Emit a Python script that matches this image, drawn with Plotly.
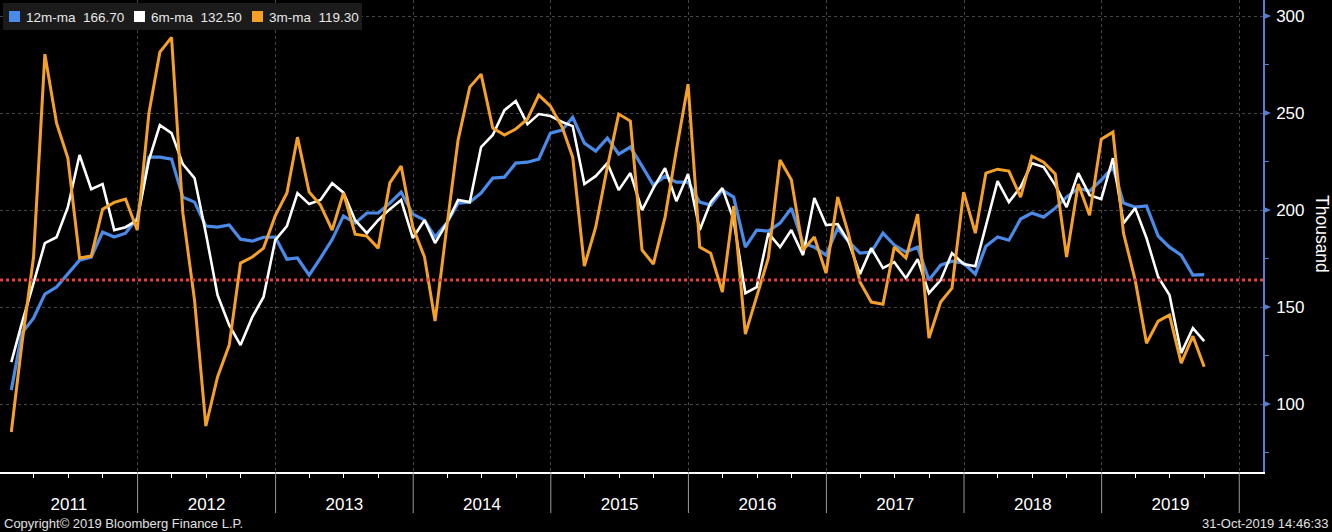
import pandas as pd
import plotly.graph_objects as go

# ---------------- data (monthly, Jan-2011 .. Sep-2019) ----------------
start_month = "2011-01-01"
n_months = 105
months = pd.date_range(start_month, periods=n_months, freq="MS") + pd.offsets.MonthEnd(0)

ma12 = [107.2, 136.6, 144.3, 156.7, 160.3, 167.0, 174.2, 175.8, 188.7, 186.1, 188.1, 195.9,
        227.3, 227.3, 226.3, 206.7, 204.1, 191.8, 191.2, 192.3, 185.0, 184.0, 186.0, 186.1,
        174.7, 175.3, 166.5, 175.3, 184.8, 197.0, 193.3, 198.5, 198.5, 203.6, 209.3, 197.9,
        194.8, 186.1, 193.3, 203.6, 204.1, 208.8, 216.5, 217.0, 224.2, 224.7, 226.3, 239.7,
        241.2, 247.9, 234.5, 230.4, 237.1, 228.9, 232.5, 222.7, 212.9, 217.5, 214.4, 214.4,
        204.1, 202.6, 210.3, 206.7, 180.9, 189.7, 189.2, 193.3, 201.0, 183.0, 180.9, 176.8,
        190.7, 184.0, 177.8, 178.4, 188.1, 182.0, 178.4, 180.9, 163.9, 171.6, 173.7, 172.7,
        167.0, 181.4, 186.1, 184.5, 195.4, 198.5, 196.4, 201.0, 206.7, 211.3, 209.8, 215.5,
        222.2, 203.6, 201.5, 202.1, 186.6, 180.9, 176.8, 166.5, 166.7]

ma6 = [121.6, 141.7, 162.4, 183.0, 186.0, 201.5, 228.4, 210.8, 213.4, 189.7, 191.2, 194.8,
       225.8, 243.8, 239.7, 223.7, 216.5, 188.1, 156.2, 140.7, 130.4, 144.8, 155.2, 184.5,
       191.8, 208.8, 203.1, 205.2, 213.9, 209.0, 194.8, 188.1, 194.8, 200.5, 205.2, 185.6,
       194.8, 183.0, 193.3, 205.2, 204.1, 232.5, 238.7, 251.5, 256.2, 244.3, 249.5, 248.5,
       245.4, 243.3, 213.4, 217.5, 224.2, 210.3, 219.1, 200.0, 211.3, 221.6, 204.6, 218.6,
       189.7, 204.1, 211.3, 194.8, 157.2, 160.3, 188.1, 180.9, 189.7, 176.8, 206.2, 192.3,
       192.8, 184.0, 167.0, 180.4, 170.1, 173.2, 164.9, 174.7, 157.2, 163.9, 177.8, 172.2,
       171.1, 191.2, 214.9, 204.1, 211.9, 224.2, 222.2, 212.9, 201.5, 219.1, 207.7, 205.7,
       226.8, 193.3, 201.0, 185.6, 165.5, 156.2, 126.3, 139.2, 132.5]

ma3 = [85.6, 131.0, 175.8, 280.4, 244.8, 226.8, 175.3, 176.3, 200.5, 204.0, 205.7, 189.7,
       250.0, 281.4, 289.0, 198.4, 153.6, 88.7, 114.0, 130.4, 172.7, 175.8, 180.4, 197.0,
       208.8, 237.6, 209.3, 202.6, 189.7, 208.8, 187.6, 186.6, 180.4, 214.0, 222.7, 191.2,
       175.8, 142.8, 191.2, 236.1, 263.4, 270.1, 242.3, 238.7, 241.8, 246.9, 259.3, 253.6,
       242.8, 227.3, 171.1, 191.2, 222.2, 249.5, 245.9, 179.4, 172.2, 196.4, 230.9, 264.9,
       180.9, 177.8, 157.7, 202.1, 136.1, 155.2, 175.3, 225.8, 215.7, 179.4, 186.1, 167.5,
       206.7, 188.1, 162.9, 152.6, 151.5, 180.9, 175.3, 197.9, 134.0, 152.6, 159.8, 209.3,
       188.1, 219.1, 221.1, 220.1, 206.7, 227.8, 224.7, 218.6, 175.8, 213.4, 197.4, 236.6,
       240.2, 188.1, 163.9, 131.4, 142.8, 145.9, 121.1, 135.0, 119.3]

series_names = ["12m-ma", "6m-ma", "3m-ma"]
reference_level = 164
y_major_ticks = [100, 150, 200, 250, 300]
y_minor_ticks = [75, 125, 175, 225, 275]
year_bounds = [f"{y}-01-01" for y in range(2011, 2021)]
x_range = ["2011-01-01", "2020-03-04"]
y_range = [65.0, 308.3]
copyright_text = "Copyright\u00a9 2019 Bloomberg Finance L.P."
stamp_text = "31-Oct-2019 14:46:33"
axis_title = "Thousand"

# ---------------- styling ----------------
BLUE = "#4a8ae8"
WHITE = "#ffffff"
ORANGE = "#f5a126"
AXIS_BLUE = "#5a7fd0"
GRID = "#464646"
FONT = "Liberation Sans"

W, H = 1332, 532
ML, MR, MT, MB = 0, 69, 0, 60
PW, PH = W - ML - MR, H - MT - MB


def px(x):  # pixel x -> paper
    return (x - ML) / PW


def py(y):  # pixel y -> paper
    return 1 - (y - MT) / PH


fig = go.Figure()
for vals, name, col, wid in [(ma12, series_names[0], BLUE, 3.2),
                             (ma6, series_names[1], WHITE, 2.6),
                             (ma3, series_names[2], ORANGE, 3.0)]:
    fig.add_trace(go.Scatter(x=months, y=vals, mode="lines", name=name,
                             line=dict(color=col, width=wid), showlegend=False,
                             hoverinfo="skip"))

shapes = []
# reference level
shapes.append(dict(type="line", xref="paper", x0=0, x1=1, yref="y",
                   y0=reference_level, y1=reference_level,
                   line=dict(color="#e5403a", width=3, dash="dot"), layer="above"))
# year dividers under the axis
for yb in year_bounds[1:]:
    shapes.append(dict(type="line", xref="x", x0=yb, x1=yb, yref="paper",
                       y0=0, y1=py(513), line=dict(color="#9a9a9a", width=1)))
# triangles on right axis at major ticks
for v in y_major_ticks:
    shapes.append(dict(type="path", xref="paper", xsizemode="pixel", xanchor=1,
                       yref="y", ysizemode="pixel", yanchor=v,
                       path="M 0 -3.5 L 8 0 L 0 3.5 Z",
                       fillcolor=AXIS_BLUE, line=dict(width=0)))

# legend box
shapes.append(dict(type="rect", xref="paper", yref="paper",
                   x0=px(3), x1=px(362), y0=py(30), y1=py(3),
                   fillcolor="#1b1b1b", line=dict(width=0), layer="above"))
annotations = []
leg_x = [9, 134, 252]
for xx, name, col, vals in zip(leg_x, series_names, [BLUE, WHITE, ORANGE], [ma12, ma6, ma3]):
    shapes.append(dict(type="rect", xref="paper", yref="paper",
                       x0=px(xx), x1=px(xx + 11), y0=py(22), y1=py(11),
                       fillcolor=col, line=dict(width=0), layer="above"))
    annotations.append(dict(xref="paper", yref="paper", x=px(xx + 15), y=py(17),
                            xanchor="left", yanchor="middle", showarrow=False,
                            text=f"{name}\u00a0 {vals[-1]:.2f}",
                            font=dict(family=FONT, size=13.5, color="#e8e8e8")))

annotations.append(dict(xref="paper", yref="paper", x=px(1322), y=py(234),
                        text=axis_title, textangle=90, showarrow=False,
                        xanchor="center", yanchor="middle",
                        font=dict(family=FONT, size=17.5, color="#ffffff")))
annotations.append(dict(xref="paper", yref="paper", x=px(2), y=py(523),
                        text=copyright_text, showarrow=False,
                        xanchor="left", yanchor="middle",
                        font=dict(family=FONT, size=13, color="#e0e0e0")))
annotations.append(dict(xref="paper", yref="paper", x=px(1330), y=py(523),
                        text=stamp_text, showarrow=False,
                        xanchor="right", yanchor="middle",
                        font=dict(family=FONT, size=13, color="#e0e0e0")))

fig.update_layout(
    width=W, height=H,
    paper_bgcolor="#000000", plot_bgcolor="#000000",
    margin=dict(l=ML, r=MR, t=MT, b=MB, autoexpand=False),
    showlegend=False,
    shapes=shapes, annotations=annotations,
    font=dict(family=FONT, color="#ffffff"),
    xaxis=dict(
        type="date", range=x_range, fixedrange=True,
        tickmode="linear", tick0="2011-01-01", dtick="M12",
        tickformat="%Y", ticklabelmode="period",
        ticks="", showline=True, linecolor="#ffffff", linewidth=1.5,
        showgrid=True, gridcolor=GRID, griddash="dot", gridwidth=1,
        zeroline=False,
        tickfont=dict(family=FONT, size=17, color="#ffffff"),
        ticklabelstandoff=16,
        minor=dict(dtick="M3", tick0="2011-01-01", ticks="outside",
                   ticklen=4, tickcolor="#ffffff", tickwidth=1, showgrid=False),
    ),
    yaxis=dict(
        side="right", range=y_range, fixedrange=True,
        tickmode="array", tickvals=y_major_ticks,
        ticks="outside", ticklen=8, tickcolor="rgba(0,0,0,0)",
        showline=True, linecolor=AXIS_BLUE, linewidth=1.5,
        showgrid=True, gridcolor=GRID, griddash="dot", gridwidth=1,
        zeroline=False,
        tickfont=dict(family=FONT, size=17, color="#ffffff"),
        minor=dict(tickvals=y_minor_ticks, ticks="outside", ticklen=4,
                   tickcolor=AXIS_BLUE, tickwidth=1, showgrid=False),
    ),
)

fig.write_html("out.html", config={"displayModeBar": False},
               post_script="document.body.style.margin='0px';document.body.style.overflow='hidden';")
